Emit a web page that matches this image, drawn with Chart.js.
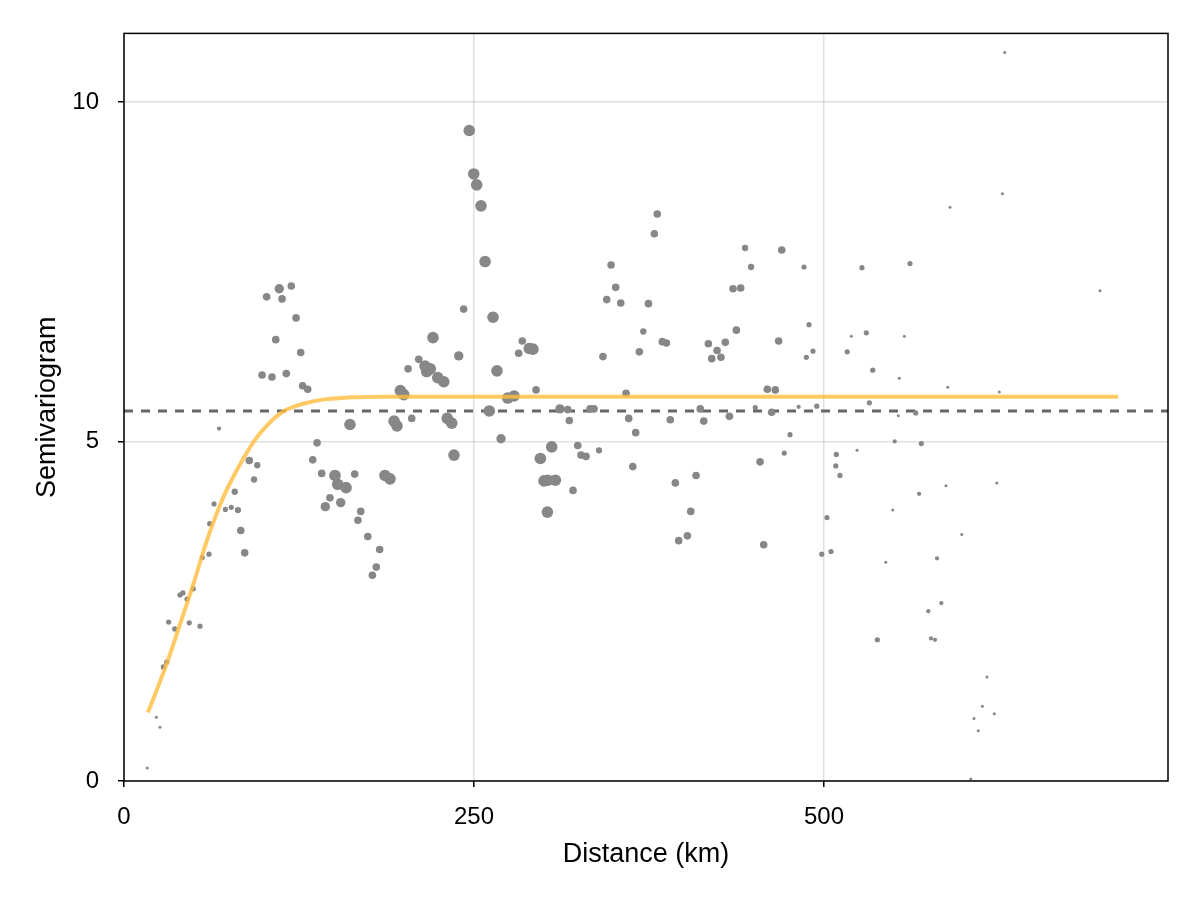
<!DOCTYPE html>
<html>
<head>
<meta charset="utf-8">
<script src="https://cdn.jsdelivr.net/npm/chart.js@4.4.1/dist/chart.umd.min.js"></script>
<style>
  html, body { margin: 0; padding: 0; background: #fff; }
</style>
</head>
<body>
<canvas id="variogram" width="1200" height="900"></canvas>
<script>
// empirical semivariogram: lag distance (km), semivariance, approx. number of pairs
const lagKm = [16.6, 23.1, 25.7, 28.1, 30.5, 31.9, 36.2, 40.0, 42.1, 45.0, 46.6, 49.5, 54.3, 55.9, 60.7, 61.2, 64.3, 67.9, 72.4, 76.6,
  79.1, 81.4, 83.4, 86.2, 89.5, 92.9, 95.2, 98.6, 101.9, 105.7, 108.4, 110.9, 112.9, 115.9, 119.5, 122.9, 126.2, 127.6, 131.2, 134.8,
  137.9, 141.2, 143.8, 147.1, 150.7, 152.6, 154.8, 158.6, 161.4, 164.8, 167.1, 169.1, 174.1, 177.4, 180.2, 182.6, 186.4, 190.0, 192.9, 195.0,
  197.4, 199.8, 202.9, 205.5, 210.5, 215.0, 216.2, 218.8, 220.7, 224.1, 228.4, 230.9, 234.1, 235.7, 239.1, 242.6, 246.6, 249.8, 251.9, 255.0,
  257.9, 260.9, 263.6, 266.4, 269.3, 274.1, 278.6, 281.9, 284.5, 289.5, 292.1, 294.3, 297.4, 300.0, 302.4, 302.6, 305.5, 308.1, 311.4, 316.9,
  318.1, 320.7, 324.1, 326.4, 330.0, 332.9, 335.7, 339.3, 342.1, 344.8, 347.9, 351.2, 354.8, 358.6, 360.5, 363.4, 365.5, 368.1, 370.9, 374.6,
  378.8, 380.9, 384.5, 387.4, 390.2, 393.8, 396.2, 402.4, 404.8, 408.6, 411.6, 414.1, 417.4, 419.8, 423.6, 426.4, 429.5, 432.4, 435.0, 437.4,
  440.5, 443.6, 447.9, 450.9, 454.3, 456.9, 459.5, 462.6, 465.2, 467.6, 469.8, 471.6, 475.7, 481.9, 485.7, 487.4, 489.3, 492.1, 494.8, 498.4,
  502.1, 505.0, 508.4, 508.8, 511.4, 516.6, 519.5, 523.6, 527.1, 530.2, 532.4, 534.8, 538.1, 544.1, 549.1, 550.5, 553.1, 553.8, 557.4, 561.4,
  565.5, 567.9, 569.5, 574.5, 576.4, 579.3, 580.7, 583.8, 587.1, 588.4, 590.0, 598.4, 604.8, 607.1, 610.2, 613.1, 616.4, 621.6, 623.4, 625.2,
  627.4, 629.1, 697.1];
const gamma = [0.19, 0.94, 0.79, 1.68, 1.75, 2.34, 2.24, 2.74, 2.77, 2.68, 2.33, 2.83, 2.28, 3.29, 3.34, 3.79, 4.08, 5.19, 4.00, 4.03,
  4.26, 3.99, 3.69, 3.36, 4.72, 4.44, 4.65, 5.98, 7.13, 5.95, 6.50, 7.25, 7.10, 6.00, 7.29, 6.82, 6.31, 5.82, 5.77, 4.73,
  4.98, 4.53, 4.04, 4.17, 4.50, 4.37, 4.10, 4.32, 5.25, 4.52, 3.84, 3.97, 3.60, 3.03, 3.15, 3.41, 4.50, 4.45, 5.30, 5.23,
  5.75, 5.69, 6.07, 5.34, 6.21, 6.11, 6.03, 6.07, 6.53, 5.94, 5.88, 5.34, 5.27, 4.80, 6.26, 6.95, 9.58, 8.94, 8.78, 8.47,
  7.65, 5.45, 6.83, 6.04, 5.04, 5.64, 5.67, 6.30, 6.48, 6.37, 6.36, 5.76, 4.75, 4.42, 3.96, 4.43, 4.92, 4.43, 5.48, 5.47,
  5.31, 4.28, 4.94, 4.80, 4.78, 5.48, 5.48, 4.87, 6.25, 7.09, 7.60, 7.27, 7.04, 5.71, 5.34, 4.63, 5.13, 6.32, 6.62, 7.03,
  8.06, 8.35, 6.47, 6.45, 5.32, 4.39, 3.54, 3.61, 3.97, 4.50, 5.48, 5.30, 6.44, 6.22, 6.34, 6.24, 6.46, 5.37, 7.25, 6.64,
  7.26, 7.85, 7.57, 5.50, 4.70, 3.48, 5.77, 5.43, 5.76, 6.48, 7.82, 4.83, 5.10, 5.51, 7.57, 6.24, 6.72, 6.33, 5.52, 3.34,
  3.88, 3.38, 4.64, 4.81, 4.50, 6.32, 6.55, 4.87, 7.56, 6.60, 5.57, 6.05, 2.08, 3.22, 3.99, 5.00, 5.38, 5.93, 6.55, 7.62,
  5.42, 4.23, 4.97, 2.50, 2.10, 2.08, 3.28, 2.62, 4.35, 5.80, 8.45, 3.63, 0.03, 0.92, 0.74, 1.10, 1.53, 0.99, 4.39, 5.73,
  8.65, 10.73, 7.22];
const pairs = [9, 9, 9, 27, 27, 27, 27, 27, 27, 27, 27, 27, 27, 27, 27, 27, 27, 18, 27, 27,
  40, 40, 58, 58, 58, 40, 40, 58, 58, 58, 58, 88, 58, 58, 58, 58, 58, 58, 58, 58,
  58, 58, 88, 58, 135, 135, 88, 135, 135, 58, 58, 58, 58, 58, 58, 58, 135, 135, 135, 135,
  135, 135, 58, 58, 58, 135, 135, 135, 135, 135, 135, 135, 135, 135, 88, 58, 135, 135, 135, 135,
  135, 135, 135, 135, 88, 135, 135, 58, 58, 135, 135, 58, 135, 135, 135, 135, 135, 135, 88, 58,
  58, 58, 58, 58, 58, 58, 58, 40, 58, 58, 58, 58, 58, 58, 58, 58, 58, 58, 40, 58,
  58, 58, 58, 58, 58, 58, 58, 58, 58, 58, 58, 58, 58, 58, 58, 58, 58, 58, 58, 58,
  58, 40, 40, 27, 58, 58, 58, 58, 58, 58, 58, 27, 27, 18, 27, 27, 27, 27, 27, 27,
  27, 27, 27, 27, 27, 27, 9, 9, 27, 27, 27, 27, 27, 9, 9, 18, 9, 9, 9, 27,
  27, 18, 27, 18, 18, 18, 18, 18, 9, 9, 9, 9, 9, 9, 9, 9, 9, 9, 9, 9,
  9, 9, 9];

// fitted model
const fitKm = [17.1, 23.8, 30.9, 40.5, 50.0, 59.5, 71.4, 80.9, 90.5, 95.2, 102.4, 108.4, 114.3, 121.0, 128.6, 142.9, 161.9, 187.0, 250.0, 400.0, 550.0, 710.0];
const fitGamma = [1.01, 1.36, 1.75, 2.34, 2.93, 3.56, 4.20, 4.59, 4.93, 5.07, 5.24, 5.36, 5.45, 5.51, 5.56, 5.62, 5.65, 5.66, 5.66, 5.66, 5.66, 5.66];

const sillLevel = 5.45;
const xRange = [0, 745.7];
const yRange = [0, 11.01];
const xTicks = [0, 250, 500];
const yTicks = [0, 5, 10];

const points = lagKm.map((d, i) => ({ x: d, y: gamma[i] }));
const fitLine = fitKm.map((d, i) => ({ x: d, y: fitGamma[i] }));
const sillLine = xRange.map(d => ({ x: d, y: sillLevel }));

Chart.defaults.font.family = "'Liberation Sans', Arial, sans-serif";
Chart.defaults.color = '#000';

// black box round the plot area
const frame = {
  id: 'frame',
  afterDatasetsDraw(chart) {
    const { ctx, chartArea: a } = chart;
    ctx.save();
    ctx.strokeStyle = '#000';
    ctx.lineWidth = 1.5;
    ctx.strokeRect(a.left, a.top, a.right - a.left, a.bottom - a.top);
    ctx.restore();
  }
};

const grid = { color: 'rgba(0,0,0,0.12)', lineWidth: 1.5, tickColor: '#000', tickLength: 6, tickWidth: 1.5 };

new Chart(document.getElementById('variogram'), {
  type: 'scatter',
  data: {
    datasets: [
      {
        data: fitLine,
        showLine: true,
        borderColor: 'rgba(255,187,60,0.8)',
        borderWidth: 4,
        pointRadius: 0,
        cubicInterpolationMode: 'monotone',
        order: 0
      },
      {
        data: points,
        backgroundColor: 'rgb(135,135,135)',
        borderWidth: 0,
        pointRadius: ctx => 0.5 * Math.sqrt(pairs[ctx.dataIndex] || 9),
        order: 1
      },
      {
        data: sillLine,
        showLine: true,
        borderColor: 'rgb(102,102,102)',
        borderWidth: 3,
        borderDash: [9, 8],
        pointRadius: 0,
        order: 2
      }
    ]
  },
  options: {
    responsive: false,
    animation: false,
    layout: { padding: { top: 32, right: 32, left: 0, bottom: 0 } },
    plugins: { legend: { display: false }, tooltip: { enabled: false } },
    scales: {
      x: {
        min: xRange[0], max: xRange[1],
        grid: grid,
        border: { display: false },
        afterBuildTicks: s => { s.ticks = xTicks.map(v => ({ value: v })); },
        afterFit: s => { s.height = 119; },
        ticks: { font: { size: 24 }, padding: 16, maxRotation: 0 },
        title: { display: true, text: 'Distance (km)', font: { size: 27 }, padding: { top: 0, bottom: 29 } }
      },
      y: {
        min: yRange[0], max: yRange[1],
        grid: grid,
        border: { display: false },
        afterBuildTicks: s => { s.ticks = yTicks.map(v => ({ value: v })); },
        afterFit: s => { s.width = 124; },
        ticks: { font: { size: 24 }, padding: 19 },
        title: { display: true, text: 'Semivariogram', font: { size: 27 }, padding: { top: 31, bottom: 0 } }
      }
    }
  },
  plugins: [frame]
});
</script>
</body>
</html>
